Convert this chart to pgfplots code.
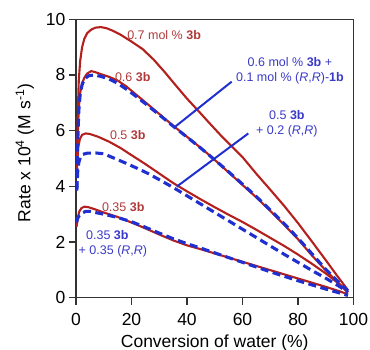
\documentclass[border=0pt]{standalone}
\usepackage{pgfplots}
\pgfplotsset{compat=1.18}
\usepackage{fontspec}
\setmainfont{Liberation Sans}
\usetikzlibrary{calc}
\definecolor{cred}{HTML}{B3201E}
\definecolor{cblue}{HTML}{2030D0}
\definecolor{tred}{HTML}{B03A3A}
\definecolor{tblue}{HTML}{3A3AC8}
\tikzset{
  rline/.style={cred, line width=2.1pt},
  bline/.style={cblue, line width=3.1pt, dash pattern=on 8pt off 4.5pt},
  lab/.style={font=\fontsize{12.5}{15}\selectfont, inner sep=0pt},
}
\begin{document}
\begin{tikzpicture}
\begin{axis}[
  scale only axis, width=277.5pt, height=278.4pt,
  xmin=0, xmax=100, ymin=0, ymax=10,
  xtick={0,20,...,100}, ytick={0,2,...,10},
  tick align=outside, xtick pos=left, ytick pos=left,
  major tick length=7pt,
  axis line style={line width=1.2pt, draw=black!80},
  every tick/.style={line width=1.2pt, black!80},
  /pgf/number format/assume math mode=true,
  ticklabel style={font=\fontsize{17.5}{20}\selectfont},
  xticklabel style={yshift=-5.5pt},
  label style={font=\fontsize{17.5}{20}\selectfont},
  xlabel={Conversion of water (\%)},
  ylabel={Rate x 10\textsuperscript{4} (M s\textsuperscript{-1})},
  xlabel style={at={(axis description cs:0.5,-0.163)}, anchor=center},
  ylabel style={at={(axis description cs:-0.184,0.52)}, anchor=center},
  clip mode=individual,
]
% 0.7 mol % 3b
\addplot[rline] coordinates {(0.4,5.0)(0.7,6.8)(1.0,7.8)(1.5,8.5)(2.2,9.0)(3,9.3)(4,9.5)(5.5,9.63)(7,9.7)(9,9.72)(11,9.68)(13,9.6)(16,9.45)(20,9.2)(24,8.93)(28,8.55)(32,8.1)(36,7.62)(40,7.15)(44,6.72)(48,6.28)(52,5.85)(56,5.45)(60,5.05)(65,4.45)(70,3.88)(75,3.3)(80,2.68)(85,2.02)(90,1.35)(94,0.8)(97.8,0.3)};
% 0.6 3b
\addplot[rline] coordinates {(0.4,4.6)(0.7,6.0)(1.0,6.8)(1.5,7.35)(2.2,7.7)(3,7.9)(4,8.05)(5.5,8.14)(7,8.1)(9,8.03)(12,7.93)(15,7.8)(18,7.6)(21,7.35)(25,7.02)(30,6.6)(35,6.18)(40,5.78)(45,5.38)(50,4.95)(55,4.5)(60,4.05)(65,3.6)(70,3.12)(75,2.62)(80,2.1)(85,1.52)(90,0.98)(95,0.48)(98,0.18)};
% 0.5 3b
\addplot[rline] coordinates {(0.4,4.8)(0.8,5.4)(1.4,5.7)(2.2,5.85)(3.5,5.9)(5,5.88)(8,5.78)(12,5.6)(16,5.38)(20,5.12)(25,4.8)(30,4.46)(35,4.12)(40,3.82)(45,3.53)(50,3.25)(55,2.98)(60,2.72)(65,2.44)(70,2.15)(75,1.86)(80,1.55)(85,1.22)(90,0.87)(95,0.48)(98,0.2)};
% 0.35 3b
\addplot[rline] coordinates {(0.2,2.55)(0.6,2.85)(1.2,3.1)(2,3.22)(3,3.27)(4.5,3.25)(7,3.17)(10,3.06)(15,2.9)(20,2.7)(25,2.49)(30,2.27)(35,2.06)(40,1.88)(45,1.74)(50,1.59)(55,1.44)(60,1.29)(65,1.14)(70,0.99)(75,0.84)(80,0.69)(85,0.54)(90,0.39)(95,0.23)(98,0.12)};
% 0.6 3b + 0.1 (R,R)-1b
\addplot[bline] coordinates {(0.3,3.9)(0.6,5.5)(1.0,6.7)(1.5,7.3)(2.2,7.65)(3,7.85)(4.5,7.97)(6.5,8.0)(9,7.95)(12,7.85)(15,7.7)(18,7.5)(21,7.28)(25,6.97)(30,6.57)(35,6.16)(40,5.77)(45,5.37)(50,4.95)(55,4.52)(60,4.08)(65,3.63)(70,3.15)(75,2.66)(80,2.14)(85,1.58)(90,1.02)(95,0.52)(98,0.25)};
% 0.5 3b + 0.2 (R,R)
\addplot[bline] coordinates {(0.3,3.85)(0.6,4.5)(1.0,4.85)(1.6,5.05)(2.5,5.15)(4,5.19)(7,5.2)(10,5.17)(14,5.0)(18,4.83)(22,4.65)(26,4.46)(30,4.24)(35,3.96)(40,3.66)(45,3.36)(50,3.06)(55,2.76)(60,2.46)(65,2.16)(70,1.86)(75,1.56)(80,1.27)(85,0.98)(90,0.7)(95,0.4)(98,0.2)};
% 0.35 3b + 0.35 (R,R)
\addplot[bline] coordinates {(0.2,2.7)(0.6,2.85)(1.2,2.95)(2,3.03)(3.5,3.1)(5,3.1)(7,3.06)(10,3.0)(15,2.88)(20,2.73)(25,2.53)(30,2.32)(35,2.12)(40,1.94)(45,1.78)(50,1.61)(55,1.44)(60,1.27)(65,1.1)(70,0.93)(75,0.77)(80,0.61)(85,0.46)(90,0.31)(95,0.17)(98,0.08)};
% leader lines
\draw[cblue, line width=2pt] (axis cs:56.1,7.76) -- (axis cs:35.7,6.14);
\draw[cblue, line width=2pt] (axis cs:62.1,5.9) -- (axis cs:36.3,3.99);
% labels
\node[lab, anchor=west, text=tred] at (axis cs:18.4,9.44) {0.7 mol \% \textbf{3b}};
\node[lab, anchor=west, text=tred] at (axis cs:14.0,7.94) {0.6 \textbf{3b}};
\node[lab, anchor=west, text=tred] at (axis cs:12.2,5.84) {0.5 \textbf{3b}};
\node[lab, anchor=west, text=tred] at (axis cs:9.3,3.25) {0.35 \textbf{3b}};
\node[lab, align=center, text=tblue] at (axis cs:77.1,8.15) {0.6 mol \% \textbf{3b} +\\0.1 mol \% (\textit{R},\textit{R})-\textbf{1b}};
\node[lab, align=center, text=tblue] at (axis cs:76,6.26) {0.5 \textbf{3b}\\+ 0.2 (\textit{R},\textit{R})};
\node[lab, anchor=west, text=tblue] at (axis cs:3.6,2.25) {0.35 \textbf{3b}};
\node[lab, anchor=west, text=tblue] at (axis cs:0.9,1.66) {+ 0.35 (\textit{R},\textit{R})};
\coordinate (bl) at (rel axis cs:0,0);
\coordinate (tr) at (rel axis cs:1,1);
\end{axis}
\pgfresetboundingbox
\path ($(bl)+(-76pt,-52.3pt)$) rectangle ($(tr)+(16.5pt,19.3pt)$);
\end{tikzpicture}
\end{document}
